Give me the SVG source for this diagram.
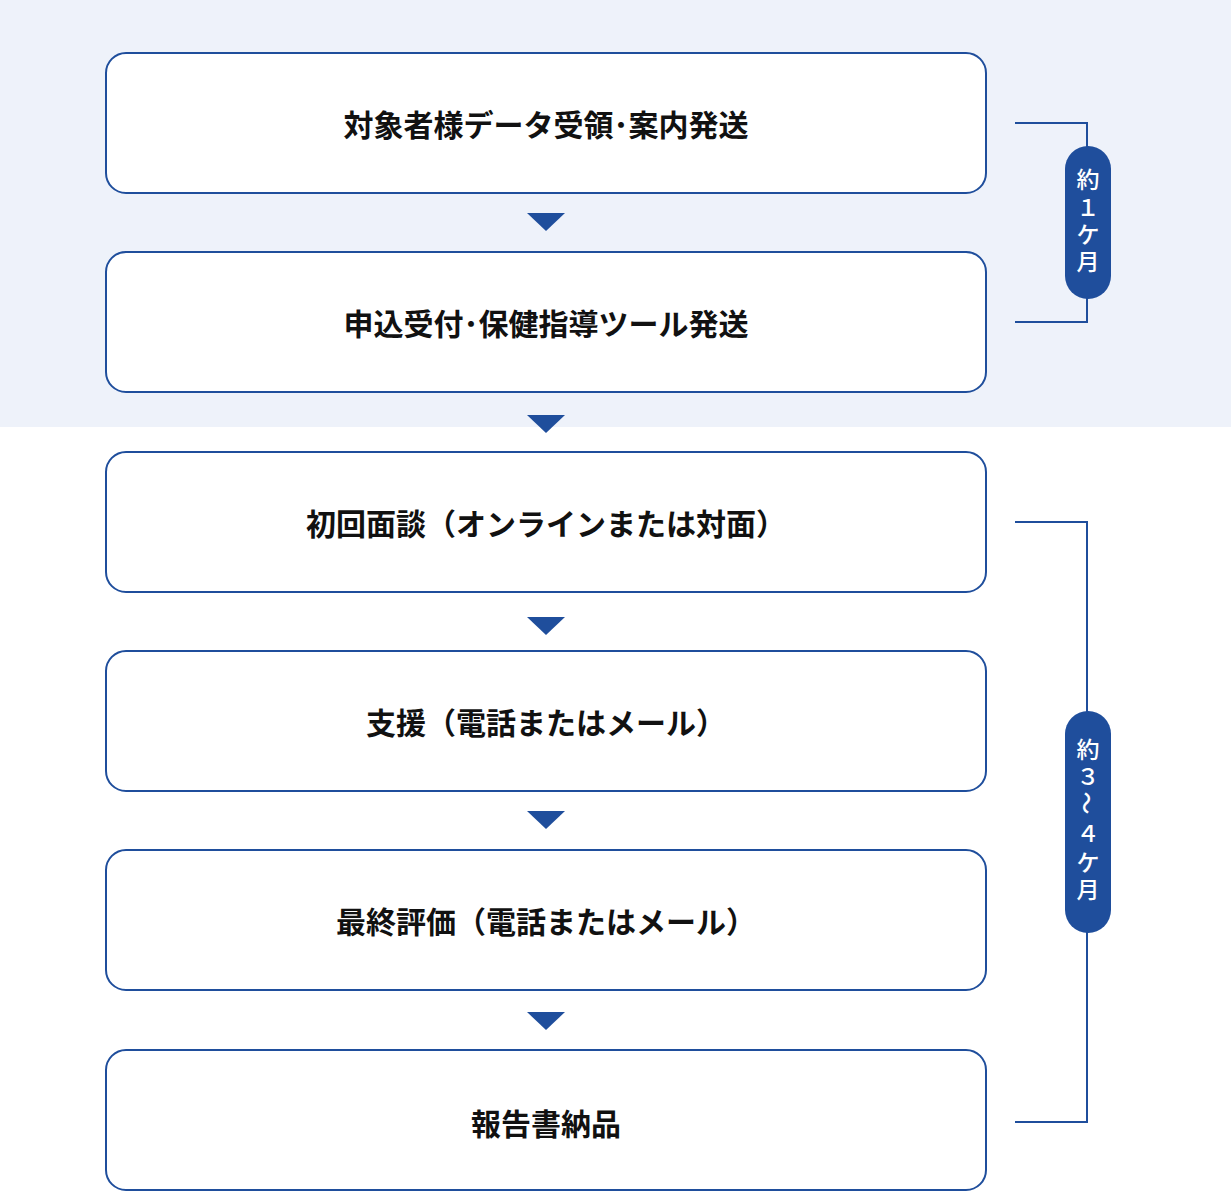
<svg xmlns="http://www.w3.org/2000/svg" width="1231" height="1192" viewBox="0 0 1231 1192">
<style>
.box{fill:#fff;stroke:#1f4e9c;stroke-width:2}
.t{font-family:"Noto Sans CJK JP",sans-serif;font-size:30px;font-weight:bold;fill:#111;text-anchor:middle;dominant-baseline:central}
.p{font-family:"Noto Sans CJK JP",sans-serif;font-size:23px;font-weight:500;fill:#fff;text-anchor:middle;dominant-baseline:central}
.tri{fill:#1f4e9c}
.ln{fill:none;stroke:#1f4e9c;stroke-width:2}
</style>
<rect x="0" y="0" width="1231" height="427" fill="#eef2fa"/>
<g id="connectors">
<path class="tri" d="M527 213h38l-19 18z"/>
<path class="tri" d="M527 415h38l-19 18z"/>
<path class="tri" d="M527 617h38l-19 18z"/>
<path class="tri" d="M527 811h38l-19 18z"/>
<path class="tri" d="M527 1012h38l-19 18z"/>
<path class="ln" d="M1015 123H1087V322H1015"/>
<path class="ln" d="M1015 522H1087V1122H1015"/>
</g>
<g id="n1"><rect class="box" x="106" y="53" width="880" height="140" rx="20"/><text class="t" x="546" y="123">対象者様データ受領･案内発送</text></g>
<g id="n2"><rect class="box" x="106" y="252" width="880" height="140" rx="20"/><text class="t" x="546" y="322">申込受付･保健指導ツール発送</text></g>
<g id="n3"><rect class="box" x="106" y="452" width="880" height="140" rx="20"/><text class="t" x="546" y="522">初回面談（オンラインまたは対面）</text></g>
<g id="n4"><rect class="box" x="106" y="651" width="880" height="140" rx="20"/><text class="t" x="546" y="721">支援（電話またはメール）</text></g>
<g id="n5"><rect class="box" x="106" y="850" width="880" height="140" rx="20"/><text class="t" x="546" y="920">最終評価（電話またはメール）</text></g>
<g id="n6"><rect class="box" x="106" y="1050" width="880" height="140" rx="20"/><text class="t" x="546" y="1122">報告書納品</text></g>
<g id="pill1"><rect x="1065" y="146" width="46" height="153" rx="23" fill="#1f4e9c"/>
<text class="p" x="1088" y="178">約</text><text class="p" x="1088" y="206">１</text><text class="p" x="1088" y="233">ケ</text><text class="p" x="1088" y="260">月</text></g>
<g id="pill2"><rect x="1065" y="711" width="46" height="222" rx="23" fill="#1f4e9c"/>
<text class="p" x="1088" y="748">約</text><text class="p" x="1088" y="775">３</text><text class="p" transform="rotate(90 1088 803)" x="1088" y="803">～</text><text class="p" x="1088" y="832">４</text><text class="p" x="1088" y="861">ケ</text><text class="p" x="1088" y="888">月</text></g>
</svg>
